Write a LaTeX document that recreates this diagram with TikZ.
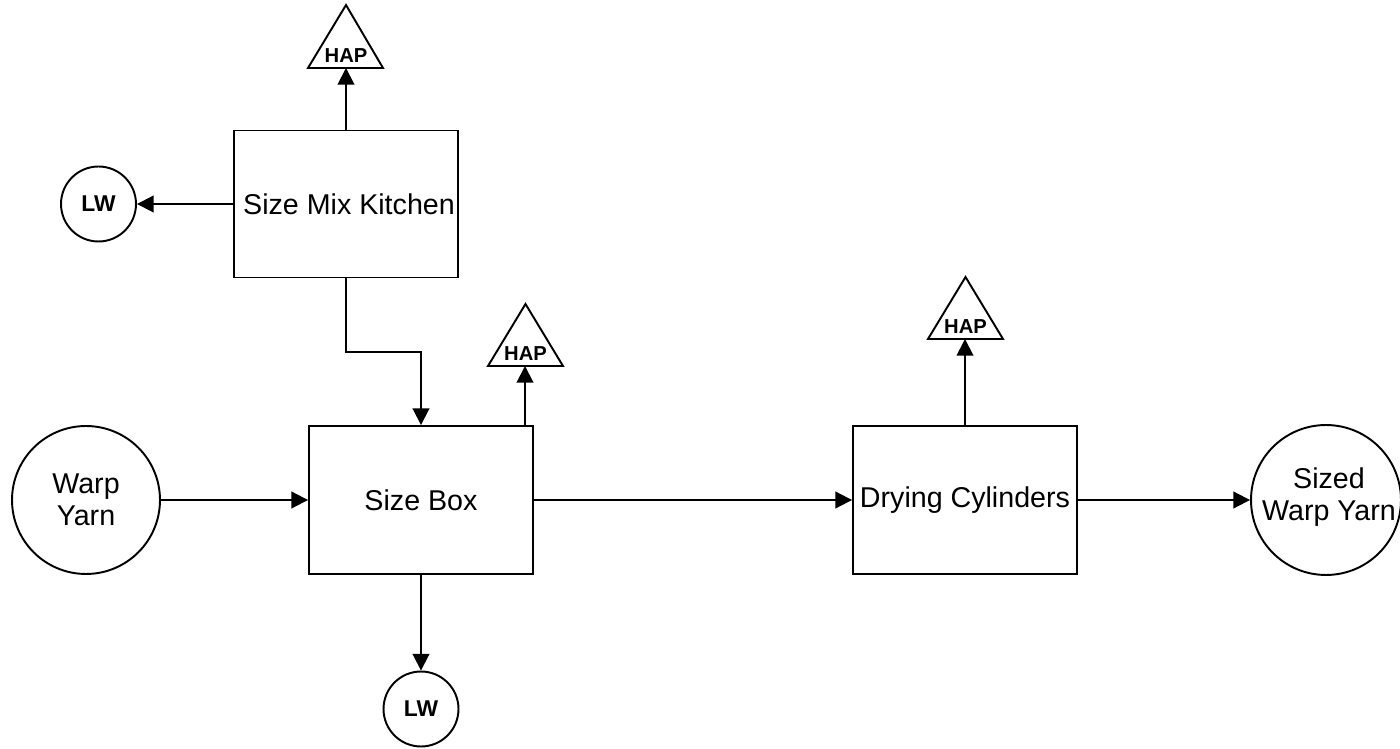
\documentclass[tikz,border=0pt]{standalone}
\usepackage{fontspec}
\setmainfont{Liberation Sans}
\usetikzlibrary{arrows.meta,calc}
\begin{document}
\begin{tikzpicture}[x=0.02cm,y=-0.02cm,
  line width=1.1pt,
  box/.style={draw,rectangle,inner sep=0pt,minimum width=4.48cm,minimum height=2.96cm},
  circ/.style={draw,circle,inner sep=0pt},
  txt/.style={inner sep=0pt,align=center,font=\fontsize{16.3}{18.5}\selectfont},
  btxt/.style={inner sep=0pt,font=\fontsize{11.5}{13}\selectfont\bfseries},
  lwtxt/.style={inner sep=0pt,font=\fontsize{13}{15}\selectfont\bfseries},
  arr/.style={-{Triangle[length=9.5pt,width=9.5pt]}}]
\useasboundingbox (0,0) rectangle (1400,749);
\clip (0,0) rectangle (1400,749);
% boxes
\node[box,minimum height=2.94cm] (smk) at (346,204) {};
\node[txt] at (349,204) {Size Mix Kitchen};
\node[box] (sb) at (421,500) {};
\node[txt] at (sb) {Size Box};
\node[box] (dc) at (965,500) {};
\node[txt] at (dc) {Drying Cylinders};
% circles
\node[circ,minimum size=2.96cm] (wy) at (86,500) {};
\node[txt] at (wy) {Warp\\Yarn};
\node[circ,minimum size=3.0cm] (swy) at (1326,500) {};
\node[txt] at (1329,497) {Sized\\Warp Yarn};
\node[circ,minimum size=1.5cm] (lw1) at (98.5,204) {};
\node[lwtxt] at (lw1) {LW};
\node[circ,minimum size=1.5cm] (lw2) at (421,709) {};
\node[lwtxt] at (lw2) {LW};
% HAP triangles
\coordinate (h1) at (346,68);
\draw (308,68) -- (346,5) -- (383,68) -- cycle;
\node[btxt] at (346,56) {HAP};
\coordinate (h2) at (525,366);
\draw (488,366) -- (525.5,304) -- (563,366) -- cycle;
\node[btxt] at (525.5,354) {HAP};
\coordinate (h3) at (965,339);
\draw (928,339) -- (965.5,277) -- (1003,339) -- cycle;
\node[btxt] at (965.5,327) {HAP};
% connectors
\draw[arr] (smk.north) -- (h1);
\draw[arr] (smk.west) -- (lw1.east);
\draw[arr] (smk.south) -- ++(0,74) -| (sb.north);
\draw[arr] (sb.north -| h2) -- (h2);
\draw[arr] (wy.east) -- (sb.west);
\draw[arr] (sb.east) -- (dc.west);
\draw[arr] (dc.north) -- (h3);
\draw[arr] (dc.east) -- (swy.west);
\draw[arr] (sb.south) -- (lw2.north);
\end{tikzpicture}
\end{document}
